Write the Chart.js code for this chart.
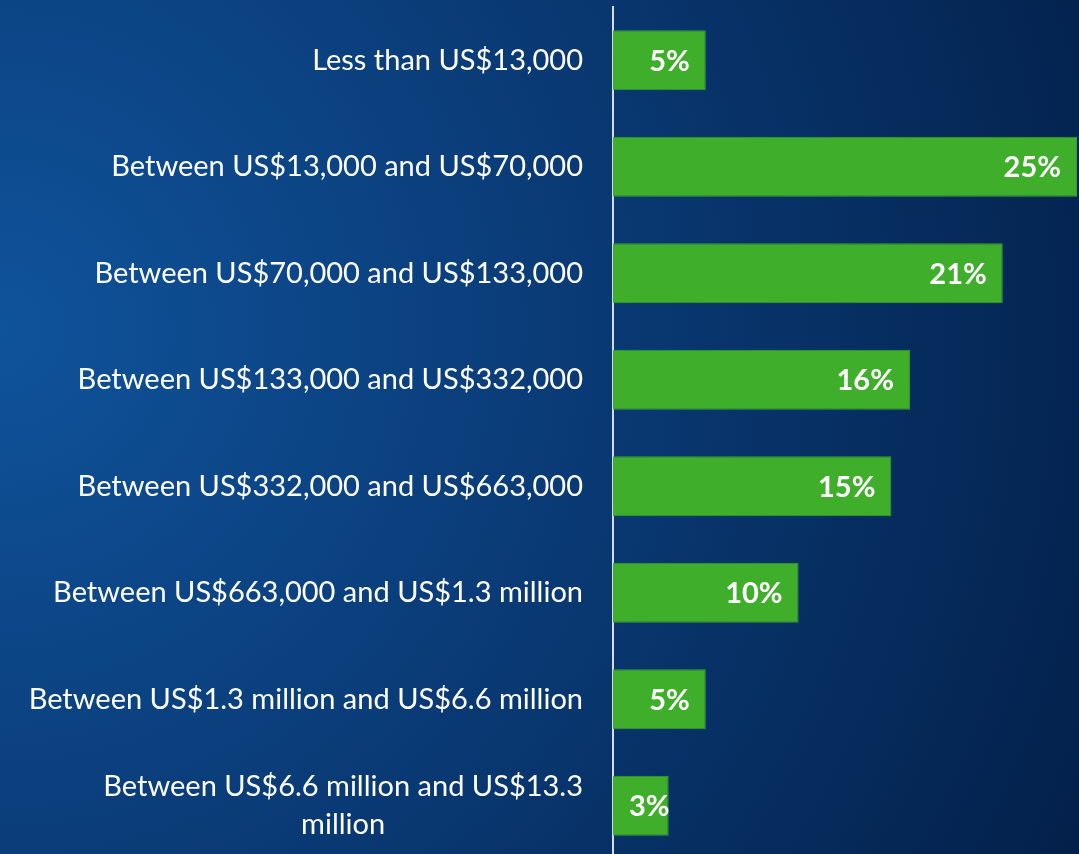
<!DOCTYPE html>
<html>
<head>
<meta charset="utf-8">
<script src="https://cdn.jsdelivr.net/npm/chart.js@4/dist/chart.umd.min.js"></script>
<style>
  html, body { margin: 0; padding: 0; overflow: hidden; background: #0b3a75; }
  #wrap { width: 1079px; height: 860px; }
</style>
</head>
<body>
<div id="wrap"><canvas id="myChart" width="1079" height="860"></canvas></div>
<script>
const categories = [
  ["Less than US$13,000"],
  ["Between US$13,000 and US$70,000"],
  ["Between US$70,000 and US$133,000"],
  ["Between US$133,000 and US$332,000"],
  ["Between US$332,000 and US$663,000"],
  ["Between US$663,000 and US$1.3 million"],
  ["Between US$1.3 million and US$6.6 million"],
  ["Between US$6.6 million and US$13.3", "million"]
];
const shares = [5, 25, 21, 16, 15, 10, 5, 3];
const valueLabels = ["5%", "25%", "21%", "16%", "15%", "10%", "5%", "3%"];

const FONT = "Lato, 'Open Sans', sans-serif";

// gradient background behind the chart
const bgPlugin = {
  id: "bg",
  beforeDraw(chart) {
    const { ctx, width, height } = chart;
    const g = ctx.createRadialGradient(0, 330, 0, 0, 330, 1200);
    g.addColorStop(0, "#0f539b");
    g.addColorStop(0.45, "#0a3c78");
    g.addColorStop(1, "#03204a");
    ctx.save();
    ctx.fillStyle = g;
    ctx.fillRect(0, 0, width, height);
    ctx.restore();
  }
};

// category names, right aligned, wrapped lines centred on each other
const catLabels = {
  id: "catLabels",
  afterDraw(chart) {
    const { ctx } = chart;
    const y = chart.scales.y;
    const right = chart.chartArea.left - 30;
    const lh = 38;
    ctx.save();
    ctx.font = "29px " + FONT;
    ctx.fillStyle = "#ffffff";
    ctx.textBaseline = "middle";
    ctx.textAlign = "center";
    categories.forEach((lines, i) => {
      const w = Math.max(...lines.map(l => ctx.measureText(l).width));
      const cx = right - w / 2;
      const cy = y.getPixelForValue(i) - (lines.length - 1) * lh / 2;
      lines.forEach((l, k) => ctx.fillText(l, cx, cy + k * lh));
    });
    ctx.restore();
  }
};

// value labels inside the end of each bar
const valLabels = {
  id: "valLabels",
  afterDatasetsDraw(chart) {
    const { ctx } = chart;
    const meta = chart.getDatasetMeta(0);
    ctx.save();
    ctx.font = "bold 29px " + FONT;
    ctx.fillStyle = "#ffffff";
    ctx.textBaseline = "middle";
    ctx.textAlign = "right";
    meta.data.forEach((bar, i) => {
      const txt = valueLabels[i];
      const w = ctx.measureText(txt).width;
      const x = Math.max(bar.x - 16, bar.base + 16 + w);
      ctx.fillText(txt, x, bar.y + 1);
    });
    ctx.restore();
  }
};

const ctx = document.getElementById("myChart").getContext("2d");
new Chart(ctx, {
  type: "bar",
  data: {
    labels: categories.map(c => c.join(" ")),
    datasets: [{
      data: shares,
      backgroundColor: "#3fae2a",
      borderColor: "#3aa02a",
      borderWidth: 1,
      borderSkipped: "start",
      barPercentage: 0.563,
      categoryPercentage: 1
    }]
  },
  options: {
    indexAxis: "y",
    responsive: false,
    animation: false,
    devicePixelRatio: 1,
    layout: { padding: { top: 7, right: 2, bottom: 1, left: 0 } },
    plugins: { legend: { display: false }, tooltip: { enabled: false } },
    scales: {
      x: { min: 0, max: 25, display: false },
      y: {
        ticks: { display: false },
        grid: { display: false },
        border: { display: true, color: "#d6dbe3", width: 2 },
        afterFit(s) { s.width = 613; }
      }
    }
  },
  plugins: [bgPlugin, catLabels, valLabels]
});
</script>
</body>
</html>
